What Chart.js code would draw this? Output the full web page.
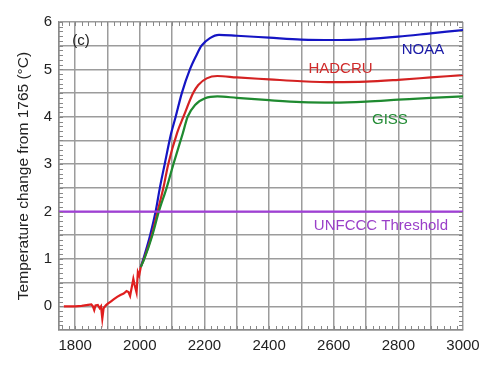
<!DOCTYPE html>
<html>
<head>
<meta charset="utf-8">
<script src="https://cdn.jsdelivr.net/npm/chart.js@4"></script>
<style>
  body { margin: 0; background: #fff; }
  #wrap { width: 500px; height: 376px; }
</style>
</head>
<body>
<div id="wrap"><canvas id="tempChart" width="500" height="376"></canvas></div>
<script>
// Observed record (red) and model projections
const histYears = [1765, 1780, 1800, 1820, 1840, 1850, 1855, 1859, 1863, 1870, 1876, 1880, 1884, 1888, 1895, 1900, 1910, 1920, 1930, 1940, 1950, 1959, 1965, 1970, 1975, 1980, 1984, 1990, 1994, 1998, 2003];
const histTemps = [0.0, 0.0, 0.0, 0.01, 0.03, 0.04, 0.0, -0.08, 0.02, 0.03, -0.04, 0.0, -0.26, -0.04, 0.02, 0.05, 0.1, 0.15, 0.2, 0.24, 0.27, 0.32, 0.3, 0.22, 0.4, 0.58, 0.45, 0.29, 0.72, 0.65, 0.83];

const noaaYears   = [2003, 2011, 2032, 2049, 2062, 2077, 2097, 2111, 2130, 2155, 2176, 2191, 2217, 2245, 2300, 2400, 2500, 2600, 2700, 2800, 2900, 3000];
const noaa        = [0.83, 1.0, 1.5, 2.0, 2.5, 3.0, 3.65, 4.0, 4.5, 5.0, 5.31, 5.5, 5.66, 5.73, 5.71, 5.67, 5.63, 5.62, 5.64, 5.69, 5.76, 5.83];
const hadcruYears = [2003, 2013, 2037, 2055, 2073, 2088, 2116, 2135, 2165, 2181, 2207, 2240, 2300, 2400, 2500, 2600, 2700, 2800, 2900, 3000];
const hadcru      = [0.83, 1.0, 1.5, 2.0, 2.5, 3.0, 3.67, 4.0, 4.5, 4.67, 4.81, 4.86, 4.83, 4.79, 4.75, 4.73, 4.74, 4.78, 4.83, 4.88];
const gissYears   = [2003, 2014, 2039, 2059, 2083, 2104, 2133, 2148, 2171, 2202, 2240, 2300, 2400, 2500, 2600, 2700, 2800, 2900, 3000];
const giss        = [0.83, 1.0, 1.5, 2.0, 2.5, 3.0, 3.65, 4.0, 4.25, 4.39, 4.43, 4.4, 4.35, 4.31, 4.3, 4.32, 4.36, 4.4, 4.43];

const thresholdYears = [1750, 3000];
const thresholdValue = 2;

// grid every 100 years / 0.5 degC, labels on a subset
const xGrid = [1750, 1800, 1900, 2000, 2100, 2200, 2300, 2400, 2500, 2600, 2700, 2800, 2900, 3000];
const yGrid = [-0.5, 0, 0.5, 1, 1.5, 2, 2.5, 3, 3.5, 4, 4.5, 5, 5.5, 6];
const xTickLabels = [1800, 2000, 2200, 2400, 2600, 2800, 3000];
const yTickLabels = [0, 1, 2, 3, 4, 5, 6];

// text labels placed in data units: [text, year, value, colour]
const labels = [
    ['(c)', 1818, 5.6, '#222'],
    ['NOAA', 2876, 5.41, '#1a1aa6'],
    ['HADCRU', 2621, 5.01, '#d02a2a'],
    ['GISS', 2774, 3.94, '#228b34'],
    ['UNFCCC Threshold', 2746, 1.7, '#9a3fc8']
];

const toPoints = (xs, ys) => xs.map((x, i) => ({ x: x, y: ys[i] }));

const gridColor = '#9c9c9c';
const fontFamily = '"Liberation Sans", Arial, sans-serif';

const extrasPlugin = {
    id: 'extras',
    afterDatasetsDraw(chart) {
        const ctx = chart.ctx;
        const x = chart.scales.x, y = chart.scales.y;
        const area = chart.chartArea;
        ctx.save();
        // small minor ticks along the frame
        ctx.strokeStyle = '#888';
        ctx.lineWidth = 1;
        ctx.beginPath();
        for (let yr = 1760; yr < 3000; yr += 20) {
            const px = Math.round(x.getPixelForValue(yr)) + 0.5;
            ctx.moveTo(px, area.bottom); ctx.lineTo(px, area.bottom - 4);
            ctx.moveTo(px, area.top); ctx.lineTo(px, area.top + 4);
        }
        for (let v = -0.4; v < 6; v += 0.1) {
            const py = Math.round(y.getPixelForValue(v)) + 0.5;
            ctx.moveTo(area.left, py); ctx.lineTo(area.left + 4, py);
            ctx.moveTo(area.right, py); ctx.lineTo(area.right - 4, py);
        }
        ctx.stroke();
        // series labels
        ctx.font = '15px ' + fontFamily;
        ctx.textAlign = 'center';
        ctx.textBaseline = 'middle';
        labels.forEach(([txt, yr, v, col]) => {
            ctx.fillStyle = col;
            ctx.fillText(txt, x.getPixelForValue(yr), y.getPixelForValue(v));
        });
        ctx.restore();
    }
};

function initTempChart() {
    const canvas = document.getElementById('tempChart');
    const line = (data, color) => ({
        data: data,
        borderColor: color,
        backgroundColor: color,
        borderWidth: 2.2,
        pointRadius: 0,
        cubicInterpolationMode: 'monotone',
        fill: false
    });

    new Chart(canvas, {
        type: 'line',
        data: {
            datasets: [
                line(toPoints(thresholdYears, thresholdYears.map(() => thresholdValue)), '#a03fd6'),
                line(toPoints(gissYears, giss), '#1f8a30'),
                line(toPoints(hadcruYears, hadcru), '#d42222'),
                line(toPoints(noaaYears, noaa), '#1515c4'),
                Object.assign(line(toPoints(histYears, histTemps), '#e01e1e'), { cubicInterpolationMode: 'default', tension: 0 })
            ]
        },
        options: {
            responsive: false,
            animation: false,
            layout: { padding: { top: 22, right: 37, left: 0, bottom: 0 } },
            plugins: {
                legend: { display: false },
                tooltip: { enabled: false }
            },
            scales: {
                x: {
                    type: 'linear',
                    min: 1750,
                    max: 3000,
                    afterBuildTicks: (s) => { s.ticks = xGrid.map(v => ({ value: v })); },
                    afterFit: (s) => { s.height = 46; },
                    grid: { color: gridColor, lineWidth: 1.5, drawTicks: false },
                    border: { color: '#8a8a8a', width: 1.5 },
                    ticks: {
                        autoSkip: false,
                        maxRotation: 0,
                        padding: 7,
                        color: '#222',
                        font: { family: fontFamily, size: 15 },
                        callback: (v) => xTickLabels.includes(v) ? String(v) : ''
                    }
                },
                y: {
                    min: -0.5,
                    max: 6,
                    afterBuildTicks: (s) => { s.ticks = yGrid.map(v => ({ value: v })); },
                    afterFit: (s) => { s.width = 59; },
                    grid: { color: gridColor, lineWidth: 1.5, drawTicks: false },
                    border: { color: '#8a8a8a', width: 1.5 },
                    title: {
                        display: true,
                        text: 'Temperature change from 1765 (°C)',
                        color: '#222',
                        padding: { top: 14, bottom: 0 },
                        font: { family: fontFamily, size: 15.5 }
                    },
                    ticks: {
                        autoSkip: false,
                        padding: 7,
                        color: '#222',
                        font: { family: fontFamily, size: 15 },
                        callback: (v) => yTickLabels.includes(v) ? String(v) : ''
                    }
                }
            }
        },
        plugins: [extrasPlugin]
    });
}

document.addEventListener('DOMContentLoaded', initTempChart);
</script>
</body>
</html>
